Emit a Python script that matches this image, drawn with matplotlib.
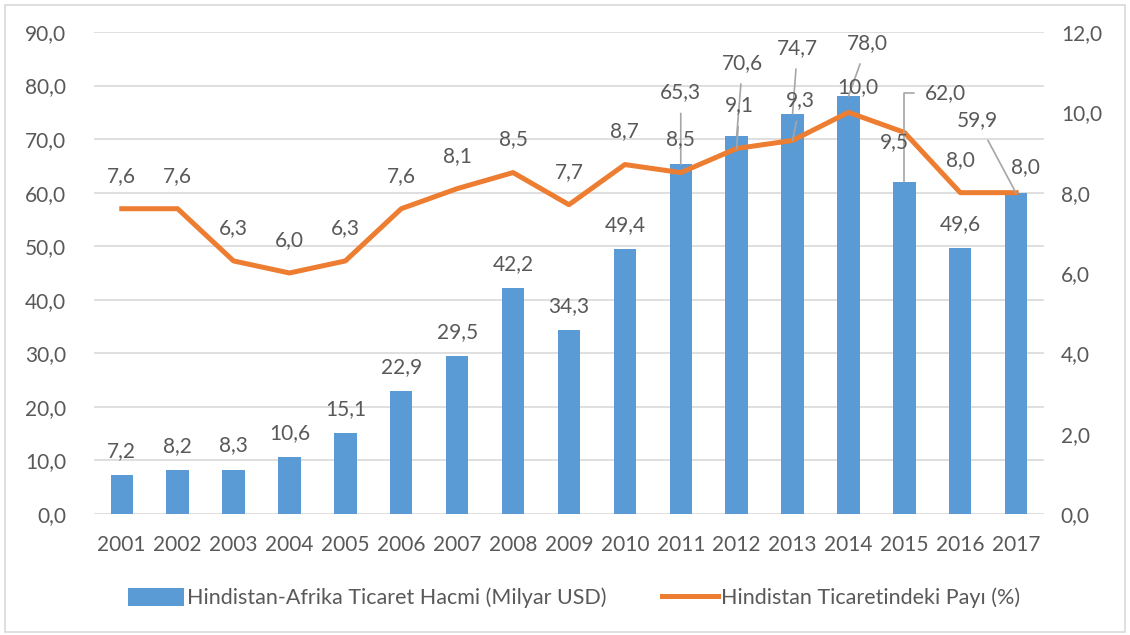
import matplotlib.pyplot as plt
from matplotlib.patches import Rectangle

plt.rcParams['font.family'] = ['Lato', 'DejaVu Sans']

# veriler
years = ['2001', '2002', '2003', '2004', '2005', '2006', '2007', '2008', '2009',
         '2010', '2011', '2012', '2013', '2014', '2015', '2016', '2017']
trade = [7.2, 8.2, 8.3, 10.6, 15.1, 22.9, 29.5, 42.2, 34.3,
         49.4, 65.3, 70.6, 74.7, 78.0, 62.0, 49.6, 59.9]
share = [7.6, 7.6, 6.3, 6.0, 6.3, 7.6, 8.1, 8.5, 7.7,
         8.7, 8.5, 9.1, 9.3, 10.0, 9.5, 8.0, 8.0]

bar_label = 'Hindistan-Afrika Ticaret Hacmi (Milyar USD)'
line_label = 'Hindistan Ticaretindeki Payı (%)'

blue = '#5B9BD5'
orange = '#ED7D31'
txt = '#595959'
grid = '#D9D9D9'
FS = 15


def fmt(v):
    return f'{v:.1f}'.replace('.', ',')


fig = plt.figure(figsize=(11.3, 6.35), dpi=100)
ax = fig.add_axes([0.083, 0.1906, 0.841, 0.759])
ax2 = ax.twinx()

x = list(range(len(years)))
bars = ax.bar(x, trade, width=0.4, color=blue, label=bar_label, zorder=2)
ln, = ax2.plot(x, share, color=orange, lw=3.6, label=line_label, zorder=3,
               solid_joinstyle='round')

ax.set_xlim(-0.5, len(years) - 0.5)
ax.set_ylim(0, 90)
ax2.set_ylim(0, 12)
ax.set_yticks(range(0, 91, 10))
ax.set_yticklabels([fmt(v) for v in range(0, 91, 10)])
ax2.set_yticks(range(0, 13, 2))
ax2.set_yticklabels([fmt(v) for v in range(0, 13, 2)])
ax.set_xticks(x)
ax.set_xticklabels(years)

ax.grid(axis='y', color=grid, lw=1.2, zorder=0)
ax.set_axisbelow(True)
for a in (ax, ax2):
    for s in a.spines.values():
        s.set_visible(False)
    a.tick_params(length=0, labelsize=FS, colors=txt)
ax.tick_params(axis='x', pad=15)
ax.tick_params(axis='y', pad=20)
ax2.tick_params(axis='y', pad=12)
ax.set_zorder(ax2.get_zorder() - 1)
ax2.patch.set_visible(False)

lead = dict(arrowstyle='-', color='#A6A6A6', lw=1.2, shrinkA=0, shrinkB=0)

# bar etiketleri (ofsetler piksel cinsinden)
bar_off = {10: (0, 72), 11: (6, 73), 12: (5, 66), 13: (19, 53), 14: (41, 89),
           16: (-39, 73)}
for i, v in enumerate(trade):
    dx, dy = bar_off.get(i, (0, 24))
    kw = {}
    if i == 14:
        kw['arrowprops'] = dict(lead, connectionstyle='angle,angleA=180,angleB=90',
                                shrinkA=6)
    elif i in bar_off:
        kw['arrowprops'] = dict(lead, shrinkA=6)
    ax2.annotate(fmt(v), xy=(i, v * 12 / 90), xytext=(dx, dy),
                 textcoords='offset pixels', ha='center', va='center',
                 fontsize=FS, color=txt, **kw)

# çizgi etiketleri
line_off = {11: (3, 43), 12: (8, 40), 13: (9, 25), 14: (-10, -10), 16: (9, 26)}
for i, v in enumerate(share):
    dx, dy = line_off.get(i, (0, 33))
    kw = {}
    if i in (11, 12):
        kw['arrowprops'] = dict(lead, shrinkA=6)
    ax2.annotate(fmt(v), xy=(i, v), xytext=(dx, dy),
                 textcoords='offset pixels', ha='center', va='center',
                 fontsize=FS, color=txt, **kw)

fig.legend([bars, ln], [bar_label, line_label], loc='center',
           bbox_to_anchor=(0.508, 0.058), ncol=2, frameon=False, fontsize=15.5,
           labelcolor=txt, handlelength=2.6, handleheight=0.9, handletextpad=0.15,
           columnspacing=2.6)

fig.patches.append(Rectangle((0.004, 0.004), 0.992, 0.988, transform=fig.transFigure,
                             fill=False, edgecolor=grid, lw=1.2))

fig.savefig('out.png', dpi=100)
